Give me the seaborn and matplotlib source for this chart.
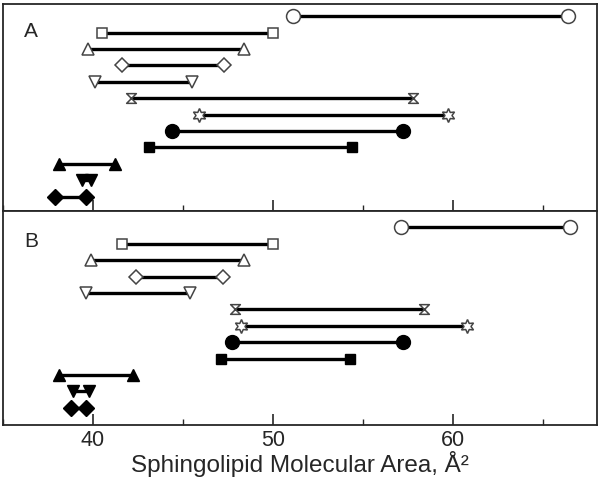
import numpy as np
import matplotlib
matplotlib.use("Agg")
import matplotlib.pyplot as plt
from matplotlib.path import Path
from matplotlib.ticker import MultipleLocator
import seaborn as sns

sns.set_style("ticks")
plt.rcParams['font.family'] = ['Liberation Sans', 'DejaVu Sans']

# one row per sphingolipid, top to bottom
row_markers = ['o', 's', '^', 'D', 'v', 'hourglass', 'star',
               'o', 's', '^', 'v', 'D']
row_filled = [False, False, False, False, False, False, False,
              True, True, True, True, True]

# panel A: (min area, max area) in A^2
a_low = [51.1, 40.5, 39.7, 41.6, 40.1, 42.1, 45.9, 44.4, 43.1, 38.1, 39.4, 37.9]
a_high = [66.4, 50.0, 48.4, 47.3, 45.5, 57.8, 59.7, 57.2, 54.4, 41.2, 39.9, 39.6]

# panel B
b_low = [57.1, 41.6, 39.9, 42.4, 39.6, 47.9, 48.2, 47.7, 47.1, 38.1, 38.9, 38.8]
b_high = [66.5, 50.0, 48.4, 47.2, 45.4, 58.4, 60.8, 57.2, 54.3, 42.2, 39.8, 39.6]

panel_labels = ['A', 'B']

hourglass = Path([(-1, 1), (1, 1), (-1, -1), (1, -1), (-1, 1)],
                 [Path.MOVETO, Path.LINETO, Path.LINETO, Path.LINETO, Path.CLOSEPOLY])
star6 = (6, 1, 0)

open_sizes = {'o': 10, 's': 7.5, '^': 8.5, 'D': 7, 'v': 8.5, 'hourglass': 7, 'star': 10}
filled_sizes = {'o': 10, 's': 7.5, '^': 9, 'D': 8, 'v': 9}


def draw_panel(ax, lows, highs, label):
    n = len(lows)
    for i, (lo, hi) in enumerate(zip(lows, highs)):
        y = n - i
        m = row_markers[i]
        mk = hourglass if m == 'hourglass' else (star6 if m == 'star' else m)
        if row_filled[i]:
            fc, ec, mew, ms = 'black', 'black', 1.0, filled_sizes[m]
        else:
            fc, ec, mew, ms = 'white', '#444444', 1.1, open_sizes[m]
        sns.lineplot(x=[lo, hi], y=[y, y], ax=ax, color='black', linewidth=2.4,
                     marker=mk, markersize=ms, markerfacecolor=fc,
                     markeredgecolor=ec, markeredgewidth=mew)
    ax.text(0.035, 0.87 if label == 'A' else 0.86, label, transform=ax.transAxes,
            fontsize=15, ha='left', va='center')
    ax.set_yticks([])
    ax.set_ylabel('')
    for s in ax.spines.values():
        s.set_linewidth(1.3)


fig = plt.figure(figsize=(6.0, 4.81), dpi=100)
gs = fig.add_gridspec(2, 1, height_ratios=[207, 214], hspace=0,
                      left=0.005, right=0.995, top=0.99, bottom=0.114)
ax_a = fig.add_subplot(gs[0])
ax_b = fig.add_subplot(gs[1], sharex=ax_a)

draw_panel(ax_a, a_low, a_high, panel_labels[0])
draw_panel(ax_b, b_low, b_high, panel_labels[1])

ax_a.set_ylim(0.13, 12.75)
ax_b.set_ylim(-0.05, 12.99)
ax_b.set_xlim(35, 68)

for ax in (ax_a, ax_b):
    ax.xaxis.set_major_locator(MultipleLocator(10))
    ax.xaxis.set_minor_locator(MultipleLocator(5))
    ax.tick_params(axis='x', which='major', direction='in', length=8, width=1.2)
    ax.tick_params(axis='x', which='minor', direction='in', length=4, width=1.0)
    ax.set_xlabel('')

ax_a.tick_params(axis='x', labelbottom=False)
ax_b.tick_params(axis='x', labelsize=15.5, pad=3)
ax_b.set_xlabel('Sphingolipid Molecular Area, Å²', fontsize=17.5, labelpad=0)

fig.savefig('out.png', dpi=100)
